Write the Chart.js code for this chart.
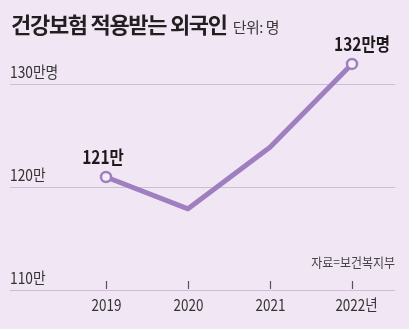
<!DOCTYPE html>
<html><head><meta charset="utf-8">
<script src="https://cdn.jsdelivr.net/npm/chart.js@4/dist/chart.umd.min.js"></script>
<style>
html,body{margin:0;padding:0;background:#f1e6f3;}
#wrap{position:relative;width:409px;height:329px;overflow:hidden;}
#t{position:absolute;left:11px;top:7px;font:bold 22px 'Noto Sans CJK KR';color:#231f20;letter-spacing:-1.3px;white-space:nowrap;}
#t span{font-weight:normal;font-size:15px;color:#3a3a3a;letter-spacing:-0.5px;margin-left:6px;}
canvas{position:absolute;left:0;top:0;}
</style></head><body>
<div id="wrap"><canvas id="c" width="409" height="329"></canvas>
<div id="t">건강보험 적용받는 외국인<span>단위: 명</span></div></div>
<script>
const years = ['2019','2020','2021','2022'];
const yearLabels = ['2019','2020','2021','2022년'];
const values = [121.0, 117.9, 123.9, 132.0];
const valueLabels = ['121만', '', '', '132만명'];
const yTicks = [110, 120, 130];
const yTickLabels = ['110만', '120만', '130만명'];
const source = '자료=보건복지부';

const FONT = "'Noto Sans CJK KR'";
function txt(c, s, x, y, align, sx){
  c.save(); c.translate(x,y); c.scale(sx,1); c.textAlign=align; c.fillText(s,0,0); c.restore();
}
const deco = {
  id:'deco',
  beforeDatasetsDraw(chart){
    const c = chart.ctx, y = chart.scales.y, x = chart.scales.x;
    c.save();
    c.strokeStyle = '#cdbfd0'; c.lineWidth = 1;
    yTicks.forEach((v,i)=>{
      const py = Math.round(y.getPixelForValue(v))+0.5;
      c.beginPath(); c.moveTo(10,py); c.lineTo(395,py); c.stroke();
      c.fillStyle = '#333'; c.font = "16px "+FONT; c.textBaseline='middle';
      txt(c, yTickLabels[i], 10, py-13, 'left', 0.86);
    });
    c.strokeStyle = '#555'; c.lineWidth = 1.2;
    const by = y.getPixelForValue(110);
    years.forEach((yr,i)=>{
      const px = Math.round(x.getPixelForValue(i))+0.5;
      c.beginPath(); c.moveTo(px,by-9); c.lineTo(px,by-1); c.stroke();
      c.fillStyle='#333'; c.font="16px "+FONT; c.textBaseline='middle';
      txt(c, yearLabels[i], px + (i===3?4:0), by+15, 'center', 0.84);
    });
    c.font = "13px "+FONT; c.fillStyle='#444'; c.textBaseline='middle';
    txt(c, source, 395, 262, 'right', 0.92);
    c.restore();
  },
  afterDatasetsDraw(chart){
    const c = chart.ctx, y = chart.scales.y, x = chart.scales.x;
    c.save();
    c.fillStyle='#1e1a1c'; c.font="bold 18px "+FONT; c.textBaseline='middle';
    values.forEach((v,i)=>{
      if(!valueLabels[i]) return;
      const px = x.getPixelForValue(i), py = y.getPixelForValue(v);
      const dx = i===0 ? -3 : 10;
      txt(c, valueLabels[i], px+dx, py-20, 'center', 0.86);
    });
    c.restore();
  }
};

new Chart(document.getElementById('c'), {
  type:'line',
  data:{labels:years, datasets:[{
    data:values,
    borderColor:'#9f7fc0', borderWidth:5, borderJoinStyle:'round', borderCapStyle:'round',
    tension:0, fill:false,
    pointRadius:[5,0,0,5], pointBackgroundColor:'#f6eef7', pointBorderColor:'#9f7fc0', pointBorderWidth:2.5,
    pointHoverRadius:0
  }]},
  options:{
    responsive:false, animation:false, events:[],
    layout:{padding:{left:65,right:16,top:43.4,bottom:39}},
    plugins:{legend:{display:false},tooltip:{enabled:false}},
    scales:{
      x:{display:false, offset:true},
      y:{display:false, min:110, max:134}
    }
  },
  plugins:[deco]
});
</script></body></html>
